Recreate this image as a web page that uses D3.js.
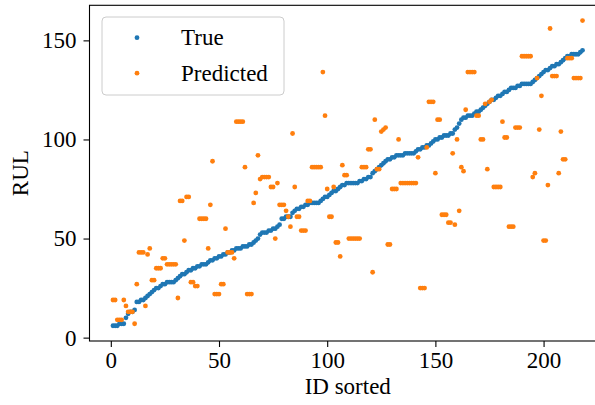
<!DOCTYPE html>
<html>
<head>
<meta charset="utf-8">
<script src="https://cdn.jsdelivr.net/npm/d3@7"></script>
<style>
  body { margin: 0; background: #fff; }
  text { font-family: 'Liberation Serif', 'Times New Roman', serif; fill: #000; }
</style>
</head>
<body>
<div id="main"></div>
<script>
// RUL per engine, sorted by true value
const trueRul = [
  6, 6, 6, 7, 7, 7, 10, 12, 13, 13, 14, 18, 18, 19, 19, 20, 21, 22, 23, 24,
  25, 25, 26, 27, 27, 28, 28, 28, 28, 29, 30, 31, 32, 32, 33, 34, 34, 35, 35, 36,
  36, 37, 37, 37, 38, 39, 39, 40, 40, 41, 41, 42, 42, 43, 43, 44, 44, 45, 45, 45,
  46, 46, 46, 47, 47, 48, 49, 50, 52, 53, 53, 53, 54, 54, 55, 55, 56, 57, 60, 60,
  61, 61, 61, 63, 64, 65, 65, 66, 66, 67, 67, 68, 68, 68, 68, 68, 69, 70, 71, 71,
  72, 73, 74, 74, 75, 76, 77, 77, 78, 78, 78, 78, 78, 78, 79, 79, 80, 80, 81, 81,
  83, 84, 85, 86, 87, 88, 89, 90, 90, 91, 91, 92, 92, 92, 92, 93, 93, 93, 93, 93,
  94, 95, 95, 96, 96, 97, 97, 98, 99, 100, 100, 101, 101, 102, 102, 102, 103, 103, 105, 106,
  108, 110, 111, 111, 112, 112, 112, 113, 114, 114, 115, 116, 117, 118, 119, 120, 120, 121, 122, 122,
  123, 124, 124, 125, 126, 126, 126, 127, 127, 128, 128, 128, 128, 128, 129, 130, 131, 132, 133, 134,
  135, 135, 136, 137, 137, 138, 138, 139, 140, 141, 142, 142, 143, 143, 143, 143, 144, 145
]

const predictedRul = [
  19, 19, 9, 9, 9, 19, 16, 13, 13, 13, 7, 27, 43, 43, 43, 16, 42, 45, 29, 29,
  35, 35, 35, 40, 40, 37, 37, 37, 37, 37, 20, 69, 69, 49, 71, 71, 28, 28, 26, 26,
  60, 60, 60, 60, 45, 67, 89, 22, 22, 22, 27, 27, 55, 43, 43, 43, 40, 109, 109, 109,
  109, 86, 22, 22, 22, 68, 73, 92, 80, 81, 81, 81, 81, 76, 76, 50, 78, 67, 67, 67,
  64, 61, 56, 103, 76, 61, 61, 54, 54, 54, 69, 69, 86, 86, 86, 86, 86, 134, 112, 75,
  61, 61, 76, 48, 48, 41, 87, 82, 82, 50, 50, 50, 50, 50, 50, 86, 86, 86, 95, 95,
  33, 110, 85, 85, 104, 105, 106, 47, 47, 75, 75, 75, 100, 78, 78, 78, 78, 78, 78, 78,
  78, 91, 25, 25, 25, 96, 119, 119, 119, 83, 110, 110, 62, 62, 62, 58, 58, 93, 57, 100,
  64, 86, 84, 115, 134, 134, 134, 134, 112, 112, 100, 100, 118, 85, 119, 120, 76, 76, 76, 76,
  109, 101, 101, 56, 56, 56, 106, 106, 106, 142, 142, 142, 142, 142, 81, 83, 131, 105, 122, 49,
  49, 77, 156, 132, 132, 132, 83, 104, 90, 90, 141, 141, 141, 131, 131, 131, 131, 160
]

const ids = trueRul.map((d, i) => i + 1)
const xTicks = [0, 50, 100, 150, 200]
const yTicks = [0, 50, 100, 150]
const seriesNames = ['True', 'Predicted']
const seriesColors = ['#1f77b4', '#ff7f0e']

const width = 595
const height = 405
const plot = { left: 89.5, right: 606, top: 5.3, bottom: 341 }
const fontSize = 23
const dotRadius = 2.4

// matplotlib style 5% margins around the data
function paddedExtent (values) {
  const [lo, hi] = d3.extent(values)
  const pad = (hi - lo) * 0.05
  return [lo - pad, hi + pad]
}

const x = d3.scaleLinear()
  .domain(paddedExtent(ids))
  .range([plot.left, plot.right])

const y = d3.scaleLinear()
  .domain(paddedExtent(trueRul.concat(predictedRul)))
  .range([plot.bottom, plot.top])

const svg = d3.select('#main')
  .append('svg')
  .attr('width', width)
  .attr('height', height)

// points
const series = [trueRul, predictedRul]
series.forEach((values, k) => {
  svg.append('g')
    .selectAll('circle')
    .data(values)
    .enter()
    .append('circle')
    .attr('cx', (d, i) => x(ids[i]))
    .attr('cy', (d) => y(d))
    .attr('r', dotRadius)
    .style('fill', seriesColors[k])
})

// spines
svg.append('rect')
  .attr('x', plot.left)
  .attr('y', plot.top)
  .attr('width', plot.right - plot.left)
  .attr('height', plot.bottom - plot.top)
  .style('fill', 'none')
  .style('stroke', '#000')
  .style('stroke-width', 1.1)

// x axis
const xAxis = d3.axisBottom(x)
  .tickValues(xTicks)
  .tickFormat(d3.format('d'))
  .tickSize(6)
  .tickPadding(5)

svg.append('g')
  .attr('transform', `translate(0, ${plot.bottom})`)
  .call(xAxis)
  .call((g) => g.select('.domain').remove())
  .call((g) => g.selectAll('text')
    .style('font-family', "'Liberation Serif', serif")
    .style('font-size', `${fontSize}px`))

// y axis
const yAxis = d3.axisLeft(y)
  .tickValues(yTicks)
  .tickFormat(d3.format('d'))
  .tickSize(6)
  .tickPadding(7)

svg.append('g')
  .attr('transform', `translate(${plot.left}, 0)`)
  .call(yAxis)
  .call((g) => g.select('.domain').remove())
  .call((g) => g.selectAll('text')
    .style('font-family', "'Liberation Serif', serif")
    .style('font-size', `${fontSize}px`))

svg.selectAll('.tick line').style('stroke', '#000').style('stroke-width', 1.1)

// axis labels
svg.append('text')
  .attr('x', (plot.left + plot.right) / 2)
  .attr('y', 394)
  .attr('text-anchor', 'middle')
  .style('font-size', `${fontSize}px`)
  .text('ID sorted')

svg.append('text')
  .attr('transform', `translate(28, ${(plot.top + plot.bottom) / 2}) rotate(-90)`)
  .attr('text-anchor', 'middle')
  .style('font-size', `${fontSize}px`)
  .text('RUL')

// legend
const legend = svg.append('g')

legend.append('rect')
  .attr('x', 102)
  .attr('y', 17)
  .attr('width', 182)
  .attr('height', 78)
  .attr('rx', 4)
  .attr('ry', 4)
  .style('fill', '#fff')
  .style('fill-opacity', 0.8)
  .style('stroke', '#cccccc')
  .style('stroke-width', 1)

const legendRows = legend.selectAll('g')
  .data(seriesNames)
  .enter()
  .append('g')
  .attr('transform', (d, i) => `translate(0, ${i * 35.5})`)

legendRows.append('circle')
  .attr('cx', 137)
  .attr('cy', 37.7)
  .attr('r', dotRadius)
  .style('fill', (d, i) => seriesColors[i])

legendRows.append('text')
  .attr('x', 181)
  .attr('y', 45)
  .style('font-size', `${fontSize}px`)
  .text((d) => d)
</script>
</body>
</html>
